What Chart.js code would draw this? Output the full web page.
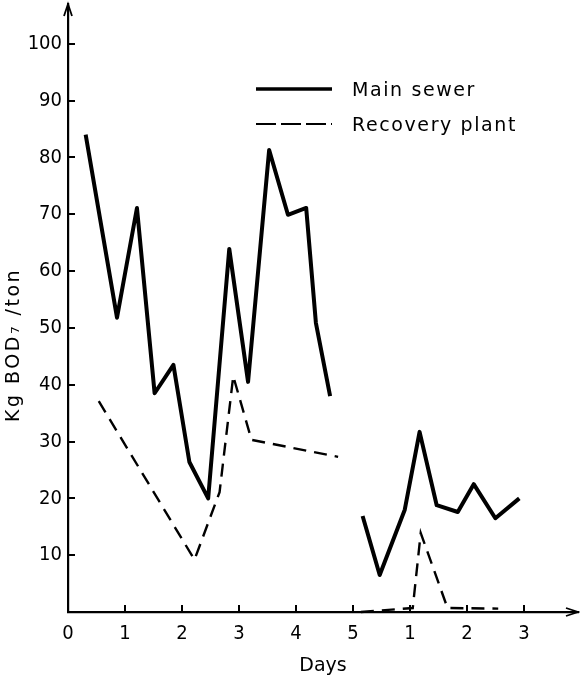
<!DOCTYPE html>
<html>
<head>
<meta charset="utf-8">
<script src="https://cdn.jsdelivr.net/npm/chart.js@4"></script>
<style>
  html, body { margin: 0; padding: 0; background: #fff; }
  #wrap { width: 580px; height: 681px; }
</style>
</head>
<body>
<div id="wrap"><canvas id="myChart" width="580" height="681"></canvas></div>
<script>
/* Data (x in days, second run restarts at 1) */
const mainDays = [0.31, 0.86, 1.21, 1.52, 1.85, 2.13, 2.46, 2.83, 3.16, 3.53, 3.86, 4.18, 4.35, 4.6, 4.9, 5.17, 5.47, 5.91, 6.17, 6.47, 6.84, 7.12, 7.5, 7.92];
const mainValues = [84, 51.8, 71.1, 38.5, 43.5, 26.4, 20, 63.9, 40.5, 81.3, 69.9, 71.1, 50.9, 38, null, 16.9, 6.5, 18, 31.7, 18.8, 17.6, 22.5, 16.5, 20];

const recoveryDays = [0.54, 2.22, 2.66, 2.9, 3.22, 4.74, 4.9, 5.14, 6.05, 6.19, 6.66, 7.55];
const recoveryValues = [37.1, 9.2, 21.1, 41.5, 30.3, 27.3, null, 0, 0.7, 13.9, 0.7, 0.6];

const seriesNames = ['Main sewer', 'Recovery plant'];
const xTicks = [0, 1, 2, 3, 4, 5, 6, 7, 8];
const xTickLabels = ['0', '1', '2', '3', '4', '5', '1', '2', '3'];
const yTicks = [10, 20, 30, 40, 50, 60, 70, 80, 90, 100];
const yTitle = 'Kg BOD\u2087 /ton';

const font = 'DejaVu Sans';
const tickFont = 'DejaVu Sans Condensed';

function toPoints(xs, ys) {
  return xs.map(function(x, i) { return { x: x, y: ys[i] }; });
}

// inward tick marks, axis arrows, y title and the legend
const extras = {
  id: 'extras',
  afterDraw: function(chart) {
    const ctx = chart.ctx;
    const area = chart.chartArea;
    const xs = chart.scales.x;
    const ys = chart.scales.y;
    ctx.save();
    ctx.strokeStyle = '#000';
    ctx.fillStyle = '#000';
    ctx.lineWidth = 2;

    xTicks.slice(1).forEach(function(v) {
      const px = Math.round(xs.getPixelForValue(v));
      ctx.beginPath();
      ctx.moveTo(px, area.bottom);
      ctx.lineTo(px, area.bottom - 7);
      ctx.stroke();
    });
    yTicks.forEach(function(v) {
      const py = Math.round(ys.getPixelForValue(v));
      ctx.beginPath();
      ctx.moveTo(area.left, py);
      ctx.lineTo(area.left + 7, py);
      ctx.stroke();
    });

    // arrows
    ctx.lineWidth = 1.8;
    ctx.beginPath();
    ctx.moveTo(area.left - 4, area.top + 12);
    ctx.lineTo(area.left, area.top);
    ctx.lineTo(area.left + 4, area.top + 12);
    ctx.stroke();
    ctx.beginPath();
    ctx.moveTo(area.right - 12, area.bottom - 4);
    ctx.lineTo(area.right, area.bottom);
    ctx.lineTo(area.right - 12, area.bottom + 4);
    ctx.stroke();

    // y title
    ctx.save();
    ctx.translate(14, ys.getPixelForValue(47));
    ctx.rotate(-Math.PI / 2);
    ctx.font = '19px "' + font + '"';
    ctx.letterSpacing = '2.5px';
    ctx.textAlign = 'center';
    ctx.textBaseline = 'middle';
    ctx.fillText(yTitle, 0, 0);
    ctx.restore();

    // legend
    const rows = [89, 124];
    ctx.font = '19px "' + font + '"';
    ctx.letterSpacing = '1.6px';
    ctx.textBaseline = 'middle';
    chart.data.datasets.forEach(function(ds, i) {
      ctx.lineWidth = ds.borderDash ? 1.8 : 3.5;
      ctx.setLineDash(ds.borderDash ? [20, 5] : []);
      ctx.beginPath();
      ctx.moveTo(256, rows[i]);
      ctx.lineTo(332, rows[i]);
      ctx.stroke();
      ctx.setLineDash([]);
      ctx.fillText(ds.label, 352, rows[i] + 2);
    });
    ctx.restore();
  }
};

const ctx = document.getElementById('myChart').getContext('2d');
const chart = new Chart(ctx, {
  type: 'line',
  data: {
    datasets: [{
      label: seriesNames[0],
      data: toPoints(mainDays, mainValues),
      borderColor: '#000',
      borderWidth: 4,
      borderJoinStyle: 'round',
      pointRadius: 0,
      spanGaps: false,
      tension: 0,
      clip: false
    }, {
      label: seriesNames[1],
      data: toPoints(recoveryDays, recoveryValues),
      borderColor: '#000',
      borderWidth: 2.4,
      borderDash: [13, 8],
      pointRadius: 0,
      spanGaps: false,
      tension: 0,
      clip: false
    }]
  },
  plugins: [extras],
  options: {
    responsive: false,
    animation: false,
    layout: { padding: { top: 4, right: 2, left: 0, bottom: 0 } },
    plugins: {
      legend: { display: false },
      tooltip: { enabled: false }
    },
    scales: {
      x: {
        type: 'linear',
        min: 0,
        max: 8.95,
        afterBuildTicks: function(scale) {
          scale.ticks = xTicks.map(function(v) { return { value: v }; });
        },
        afterFit: function(scale) {
          scale.height = 69;
          scale.paddingLeft = 0;
          scale.paddingRight = 0;
        },
        grid: { display: false, drawTicks: false },
        border: { display: true, color: '#000', width: 2.2 },
        ticks: {
          color: '#000',
          padding: 10,
          maxRotation: 0,
          autoSkip: false,
          font: { family: tickFont, size: 20 },
          callback: function(v, i) { return xTickLabels[i]; }
        },
        title: {
          display: true,
          text: 'Days',
          color: '#000',
          padding: { top: 2, bottom: 4 },
          font: { family: font, size: 19 }
        }
      },
      y: {
        type: 'linear',
        min: 0,
        max: 107,
        afterBuildTicks: function(scale) {
          scale.ticks = yTicks.map(function(v) { return { value: v }; });
        },
        afterFit: function(scale) {
          scale.width = 68;
          scale.paddingTop = 0;
          scale.paddingBottom = 0;
        },
        grid: { display: false, drawTicks: false },
        border: { display: true, color: '#000', width: 2.2 },
        ticks: {
          color: '#000',
          padding: 6,
          font: { family: tickFont, size: 20 }
        }
      }
    }
  }
});
</script>
</body>
</html>
